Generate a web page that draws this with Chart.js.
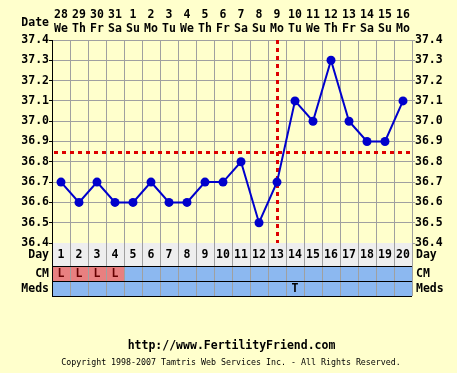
<!DOCTYPE html>
<html>
<head>
<meta charset="utf-8">
<script src="https://cdn.jsdelivr.net/npm/chart.js@4/dist/chart.umd.min.js"></script>
<style>
  html, body { margin: 0; padding: 0; background: #ffffff; }
  #wrap { width: 471px; height: 373px; }
</style>
</head>
<body>
<div id="wrap"><canvas id="bbtChart" width="471" height="373"></canvas></div>
<script>
const cycleDays = ['1','2','3','4','5','6','7','8','9','10','11','12','13','14','15','16','17','18','19','20'];
const dates = ['28','29','30','31','1','2','3','4','5','6','7','8','9','10','11','12','13','14','15','16'];
const weekdays = ['We','Th','Fr','Sa','Su','Mo','Tu','We','Th','Fr','Sa','Su','Mo','Tu','We','Th','Fr','Sa','Su','Mo'];
const temps = [36.7, 36.6, 36.7, 36.6, 36.6, 36.7, 36.6, 36.6, 36.7, 36.7, 36.8, 36.5, 36.7, 37.1, 37.0, 37.3, 37.0, 36.9, 36.9, 37.1];
const cmMarks = ['L','L','L','L','','','','','','','','','','','','','','','',''];
const medsMarks = ['','','','','','','','','','','','','','T','','','','','',''];
const coverline = 36.85;
const ovulationDay = '13';
const tempMin = 36.4;
const tempMax = 37.4;

const FONT = '"DejaVu Sans Mono", "Liberation Mono", monospace';
const GRID = '#a0a0a0';

const paperPlugin = {
  id: 'paper',
  beforeDraw(chart) {
    const c = chart.ctx;
    c.save();
    c.fillStyle = '#ffffcc';
    c.fillRect(0, 0, 457, chart.height);
    c.restore();
  }
};

// red dotted coverline + ovulation line, under the points
const markersPlugin = {
  id: 'markers',
  beforeDatasetsDraw(chart) {
    const { ctx: c, chartArea: a, scales } = chart;
    const yc = Math.round(scales.y.getPixelForValue(coverline)) + 0.5;
    const xo = Math.round(scales.x.getPixelForValue(cycleDays.indexOf(ovulationDay))) + 0.5;
    c.save();
    c.strokeStyle = '#dd0000';
    c.lineWidth = 3;
    c.setLineDash([4, 4]);
    c.beginPath();
    c.moveTo(a.left + 2, yc);
    c.lineTo(a.right, yc);
    c.stroke();
    c.beginPath();
    c.moveTo(xo, a.top);
    c.lineTo(xo, a.bottom);
    c.stroke();
    c.restore();
  }
};

const tablePlugin = {
  id: 'table',
  afterDraw(chart) {
    const { ctx: c, chartArea: a, scales } = chart;
    const x = scales.x;
    const colW = (a.right - a.left) / cycleDays.length;
    const dayTop = a.bottom, dayBot = dayTop + 23, cmBot = dayBot + 15, medsBot = cmBot + 15;
    c.save();
    c.fillStyle = '#eeeeee';
    c.fillRect(a.left, dayTop, a.right - a.left, dayBot - dayTop);
    c.fillStyle = '#8cb8f0';
    c.fillRect(a.left, dayBot, a.right - a.left, medsBot - dayBot);

    c.font = 'bold 11.5px ' + FONT;
    c.textAlign = 'center';
    c.textBaseline = 'middle';
    cycleDays.forEach((d, i) => {
      const cx = x.getPixelForValue(i);
      c.fillStyle = '#000';
      c.fillText(d, cx, (dayTop + dayBot) / 2 + 1);
      if (cmMarks[i]) {
        c.fillStyle = '#e88080';
        c.fillRect(cx - colW / 2 + 1, dayBot + 1, colW - 1, cmBot - dayBot - 1);
        c.fillStyle = '#660000';
        c.fillText(cmMarks[i], cx, (dayBot + cmBot) / 2 + 1);
      }
      if (medsMarks[i]) {
        c.fillStyle = '#000';
        c.fillText(medsMarks[i], cx, (cmBot + medsBot) / 2 + 1);
      }
    });

    c.strokeStyle = GRID;
    c.lineWidth = 1;
    for (let i = 1; i <= cycleDays.length; i++) {
      const ex = Math.round(a.left + i * colW) + 0.5;
      c.beginPath();
      c.moveTo(ex, dayTop);
      c.lineTo(ex, medsBot);
      c.stroke();
    }
    c.strokeStyle = '#000';
    [dayBot, cmBot, medsBot].forEach(yy => {
      c.beginPath();
      c.moveTo(a.left, yy + 0.5);
      c.lineTo(a.right, yy + 0.5);
      c.stroke();
    });
    c.beginPath();
    c.moveTo(Math.round(a.left) + 0.5, dayTop);
    c.lineTo(Math.round(a.left) + 0.5, medsBot + 1);
    c.stroke();

    // row labels
    c.fillStyle = '#000';
    c.textAlign = 'right';
    c.fillText('Date', a.left - 3, 23);
    c.fillText('Day', a.left - 3, (dayTop + dayBot) / 2 + 1);
    c.fillText('CM', a.left - 3, (dayBot + cmBot) / 2 + 1);
    c.fillText('Meds', a.left - 3, (cmBot + medsBot) / 2 + 1);
    c.textAlign = 'left';
    c.fillText('Day', a.right + 4, (dayTop + dayBot) / 2 + 1);
    c.fillText('CM', a.right + 4, (dayBot + cmBot) / 2 + 1);
    c.fillText('Meds', a.right + 4, (cmBot + medsBot) / 2 + 1);

    // footer
    c.textAlign = 'center';
    c.fillText('http://www.FertilityFriend.com', 231.5, 346);
    c.font = '8.3px ' + FONT;
    c.fillText('Copyright 1998-2007 Tamtris Web Services Inc. - All Rights Reserved.', 231, 363);
    c.restore();
  }
};

const tickFont = { family: FONT, size: 11.5, weight: 'bold', lineHeight: 14 / 11.5 };

new Chart(document.getElementById('bbtChart'), {
  type: 'line',
  data: {
    labels: cycleDays,
    datasets: [{
      data: temps,
      xAxisID: 'x',
      yAxisID: 'y',
      borderColor: '#0000cc',
      backgroundColor: '#0000cc',
      borderWidth: 2,
      pointRadius: 4.5,
      pointBorderWidth: 0,
      tension: 0,
      clip: false
    }]
  },
  options: {
    responsive: false,
    animation: false,
    devicePixelRatio: 1,
    layout: { padding: { left: 0, right: 0, top: 0, bottom: 130 } },
    plugins: { legend: { display: false }, tooltip: { enabled: false } },
    scales: {
      x: {
        type: 'category',
        position: 'top',
        offset: true,
        grid: { offset: true, color: GRID, drawTicks: false },
        border: { display: false },
        ticks: {
          autoSkip: false,
          maxRotation: 0,
          padding: 4,
          color: '#000',
          font: tickFont,
          callback: (v, i) => [dates[i], weekdays[i]]
        },
        afterFit: s => { s.height = 40; }
      },
      y: {
        position: 'left',
        min: tempMin,
        max: tempMax,
        grid: { color: GRID, tickLength: 3, tickColor: '#000' },
        border: { color: '#000' },
        ticks: {
          stepSize: 0.1,
          padding: 0,
          color: '#000',
          font: tickFont,
          callback: v => Number(v).toFixed(1)
        },
        afterFit: s => { s.width = 52; }
      },
      y2: {
        position: 'right',
        min: tempMin,
        max: tempMax,
        grid: { drawOnChartArea: false, color: GRID, tickLength: 3 },
        border: { color: GRID },
        ticks: {
          stepSize: 0.1,
          padding: 0,
          color: '#000',
          font: tickFont,
          callback: v => Number(v).toFixed(1)
        },
        afterFit: s => { s.width = 59; }
      }
    }
  },
  plugins: [paperPlugin, markersPlugin, tablePlugin]
});
</script>
</body>
</html>
